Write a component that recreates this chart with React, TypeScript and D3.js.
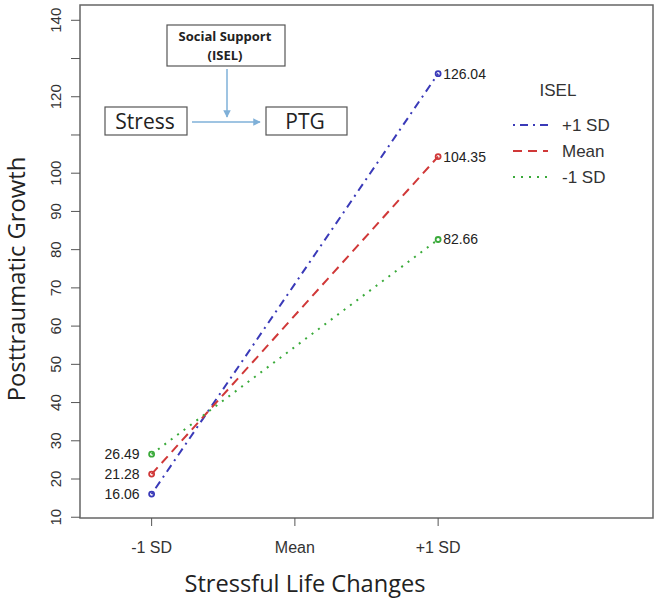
import React from "react";
import * as d3 from "d3";

const categories = ["-1 SD", "Mean", "+1 SD"];
const seriesNames = ["+1 SD", "Mean", "-1 SD"];
const seriesLow = [16.06, 21.28, 26.49];
const seriesHigh = [126.04, 104.35, 82.66];
const yTicks = [10, 20, 30, 40, 50, 60, 70, 80, 90, 100, 110, 120, 130, 140];
const yTickLabels = ["10", "20", "30", "40", "50", "60", "70", "80", "90", "100", "", "120", "", "140"];
const colors = ["#3a3ab8", "#d03838", "#3aaa3a"];
const dashes = ["2,5,8,5", "9,6", "2,6"];

export default function App() {
  const W = 659, H = 600;
  const left = 80, right = 653, top = 5, bottom = 518;
  const x = d3.scaleLinear().domain([-0.5, 3.5]).range([left, right]);
  const y = d3.scaleLinear().domain([9.8, 144]).range([bottom, top]);
  const line = d3.line<[number, number]>().x(d => x(d[0])).y(d => y(d[1]));
  const axisFont = "'Liberation Sans', Arial, sans-serif";
  const titleFont = "'Open Sans', Lato, sans-serif";
  const arrowColor = "#7fb0d8";
  return (
    <svg width={W} height={H} style={{ position: "absolute", left: 0, top: 0, background: "#fff" }}>
      <defs>
        <marker id="ah" viewBox="0 0 10 10" refX="9" refY="5" markerWidth="5" markerHeight="5" orient="auto">
          <path d="M0,0 L10,5 L0,10 z" fill={arrowColor} />
        </marker>
      </defs>
      <rect x={left} y={top} width={right - left} height={bottom - top} fill="none" stroke="#666" strokeWidth={1.5} />
      {/* y axis */}
      {yTicks.map((t, i) => (
        <g key={t}>
          <line x1={left - 9} x2={left} y1={y(t)} y2={y(t)} stroke="#555" />
          {yTickLabels[i] && (
            <text transform={`translate(${left - 25},${y(t)}) rotate(-90)`} textAnchor="middle" dominantBaseline="central"
              fontFamily={axisFont} fontSize={15} fill="#333">{yTickLabels[i]}</text>
          )}
        </g>
      ))}
      {/* x axis */}
      {categories.map((c, i) => (
        <g key={c}>
          <line x1={x(i)} x2={x(i)} y1={bottom} y2={bottom + 8} stroke="#555" />
          <text x={x(i)} y={547} textAnchor="middle" dominantBaseline="central" fontFamily={axisFont} fontSize={16} fill="#333">{c}</text>
        </g>
      ))}
      <text x={305} y={583} textAnchor="middle" dominantBaseline="central" fontFamily={titleFont} fontSize={23.6} fill="#222">Stressful Life Changes</text>
      <text transform={`translate(16,279) rotate(-90)`} textAnchor="middle" dominantBaseline="central" fontFamily={titleFont} fontSize={23.8} fill="#222">Posttraumatic Growth</text>
      {/* lines */}
      {seriesNames.map((s, i) => (
        <g key={s}>
          <path d={line([[0, seriesLow[i]], [2, seriesHigh[i]]]) || ""} fill="none" stroke={colors[i]} strokeWidth={2} strokeDasharray={dashes[i]} />
          <circle cx={x(0)} cy={y(seriesLow[i])} r={2.5} fill="none" stroke={colors[i]} strokeWidth={1.8} />
          <circle cx={x(2)} cy={y(seriesHigh[i])} r={2.5} fill="none" stroke={colors[i]} strokeWidth={1.8} />
          <text x={x(0) - 12} y={y(seriesLow[i])} textAnchor="end" dominantBaseline="central" fontFamily={axisFont} fontSize={14} fill="#222">{seriesLow[i].toFixed(2)}</text>
          <text x={x(2) + 5} y={y(seriesHigh[i])} textAnchor="start" dominantBaseline="central" fontFamily={axisFont} fontSize={14} fill="#222">{seriesHigh[i].toFixed(2)}</text>
        </g>
      ))}
      {/* legend */}
      <text x={558} y={90} textAnchor="middle" dominantBaseline="central" fontFamily={axisFont} fontSize={17} fill="#333">ISEL</text>
      {seriesNames.map((s, i) => (
        <g key={"lg" + s}>
          <line x1={513} x2={548} y1={125 + i * 26} y2={125 + i * 26} stroke={colors[i]} strokeWidth={2} strokeDasharray={dashes[i]} />
          <text x={562} y={125 + i * 26} dominantBaseline="central" fontFamily={axisFont} fontSize={17} fill="#333">{s}</text>
        </g>
      ))}
      {/* diagram */}
      <rect x={167} y={25} width={118} height={41} fill="#fff" stroke="#555" strokeWidth={1.2} />
      <text x={225} y={36} textAnchor="middle" dominantBaseline="central" fontFamily={titleFont} fontSize={13} fontWeight="bold" fill="#222">Social Support</text>
      <text x={225} y={55} textAnchor="middle" dominantBaseline="central" fontFamily={titleFont} fontSize={13} fontWeight="bold" fill="#222">(ISEL)</text>
      <line x1={227} x2={227} y1={69} y2={117} stroke={arrowColor} strokeWidth={1.5} markerEnd="url(#ah)" />
      <rect x={105} y={107} width={82} height={28} fill="#fff" stroke="#555" strokeWidth={1.2} />
      <text x={145} y={121} textAnchor="middle" dominantBaseline="central" fontFamily={titleFont} fontSize={21} fill="#222">Stress</text>
      <line x1={192} x2={260} y1={122} y2={122} stroke={arrowColor} strokeWidth={1.5} markerEnd="url(#ah)" />
      <rect x={266} y={107} width={81} height={28} fill="#fff" stroke="#555" strokeWidth={1.2} />
      <text x={305} y={121} textAnchor="middle" dominantBaseline="central" fontFamily={titleFont} fontSize={21} fill="#222">PTG</text>
    </svg>
  );
}
